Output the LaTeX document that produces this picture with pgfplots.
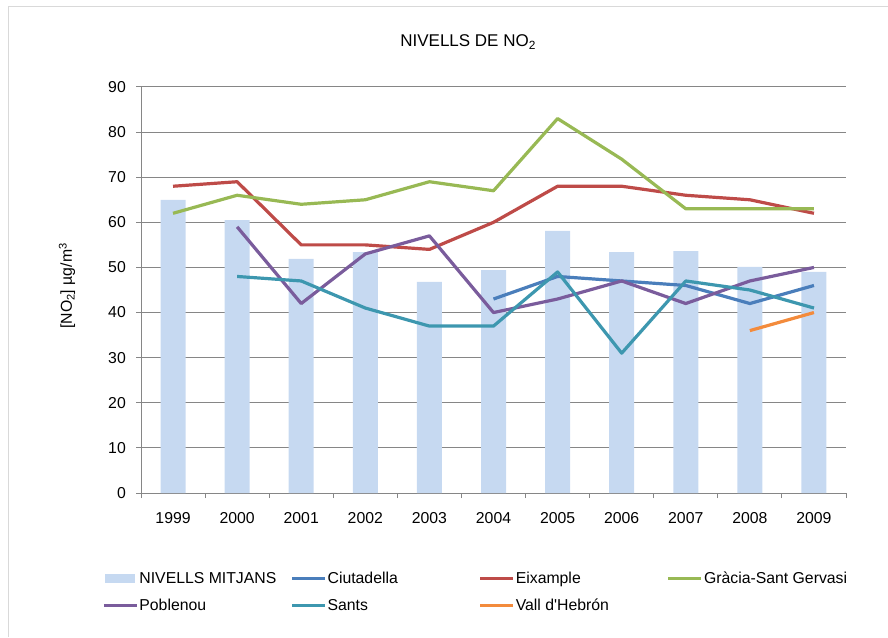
\documentclass[border=0pt]{standalone}
\usepackage{fontspec}
\setmainfont{Liberation Sans}
\usepackage{pgfplots}
\pgfplotsset{compat=1.18}
\definecolor{barc}{HTML}{C6D9F1}
\definecolor{cblue}{HTML}{4A7EBB}
\definecolor{cred}{HTML}{BE4B48}
\definecolor{cgreen}{HTML}{98B954}
\definecolor{cpurple}{HTML}{7A5C9C}
\definecolor{caqua}{HTML}{3D97AF}
\definecolor{corange}{HTML}{F38B3C}
\definecolor{gridc}{HTML}{868686}
\begin{document}
\begin{tikzpicture}[font=\fontsize{15.8}{19}\selectfont]
\useasboundingbox (0,0) rectangle (888pt,637pt);
\draw[color=black!15, line width=1pt] (8pt,0) -- (8pt,630pt) -- (888pt,630pt);
\begin{axis}[
  at={(141pt,144pt)}, anchor=south west,
  scale only axis, width=705pt, height=406pt,
  xmin=-0.5, xmax=10.5, ymin=0, ymax=90,
  axis x line*=bottom, axis y line*=left,
  axis line style={draw=gridc, line width=1pt, -},
  xtick={0,...,10},
  xticklabels={1999,2000,2001,2002,2003,2004,2005,2006,2007,2008,2009},
  minor xtick={-0.5,0.5,...,10.5},
  ytick={0,10,...,90},
  tick align=outside,
  major tick length=5pt, minor tick length=5pt,
  tick style={draw=gridc, line width=1pt},
  major x tick style={draw=none},
  ymajorgrids, major grid style={draw=gridc, line width=1pt},
  /pgf/number format/assume math mode=true,
  yticklabel style={inner sep=0pt, anchor=east, xshift=-10pt},
  xticklabel style={inner sep=0pt, anchor=north, yshift=-14.5pt},
  ylabel={[NO\textsubscript{2}] µg/m\textsuperscript{3}},
  ylabel style={at={(axis description cs:-0.105,0.51)}, anchor=center, inner sep=0pt},
  title={NIVELLS DE NO\textsubscript{2}},
  title style={at={(axis description cs:0.464,1.096)}, anchor=center, inner sep=0pt, font=\fontsize{17}{20}\selectfont},
  legend columns=4,
  legend style={at={(axis description cs:-0.0553,-0.1927)}, anchor=north west,
    draw=none, fill=none, inner sep=0pt, column sep=0pt, row sep=13.5pt,
    nodes={inner sep=1pt, anchor=west, text height=11.5pt, text depth=0pt}},
  legend image code/.code={\draw[#1, line width=3.2pt] (0pt,0pt) -- (33pt,0pt);},
]
\addplot[ybar, bar width=25pt, fill=barc, draw=none,
  legend image code/.code={\fill[barc] (1.5pt,-4.5pt) rectangle (31.5pt,4.5pt);}]
  coordinates {(0,65.0) (1,60.5) (2,51.9) (3,53.4) (4,46.8) (5,49.4) (6,58.1) (7,53.4) (8,53.6) (9,50.1) (10,49.0)};
\addlegendentry{\makebox[150pt][l]{NIVELLS MITJANS}}
\addplot[cblue, line width=3.2pt, line join=round]
  coordinates {(5,43) (6,48) (7,47) (8,46) (9,42) (10,46)};
\addlegendentry{\makebox[150pt][l]{Ciutadella}}
\addplot[cred, line width=3.2pt, line join=round]
  coordinates {(0,68) (1,69) (2,55) (3,55) (4,54) (5,60) (6,68) (7,68) (8,66) (9,65) (10,62)};
\addlegendentry{\makebox[150pt][l]{Eixample}}
\addplot[cgreen, line width=3.2pt, line join=round]
  coordinates {(0,62) (1,66) (2,64) (3,65) (4,69) (5,67) (6,83) (7,74) (8,63) (9,63) (10,63)};
\addlegendentry{\makebox[150pt][l]{Gràcia-Sant Gervasi}}
\addplot[cpurple, line width=3.2pt, line join=round]
  coordinates {(1,59) (2,42) (3,53) (4,57) (5,40) (6,43) (7,47) (8,42) (9,47) (10,50)};
\addlegendentry{\makebox[150pt][l]{Poblenou}}
\addplot[caqua, line width=3.2pt, line join=round]
  coordinates {(1,48) (2,47) (3,41) (4,37) (5,37) (6,49) (7,31) (8,47) (9,45) (10,41)};
\addlegendentry{\makebox[150pt][l]{Sants}}
\addplot[corange, line width=3.2pt, line join=round]
  coordinates {(9,36) (10,40)};
\addlegendentry{\makebox[150pt][l]{Vall d\textquotesingle Hebrón}}
\end{axis}
\end{tikzpicture}
\end{document}
